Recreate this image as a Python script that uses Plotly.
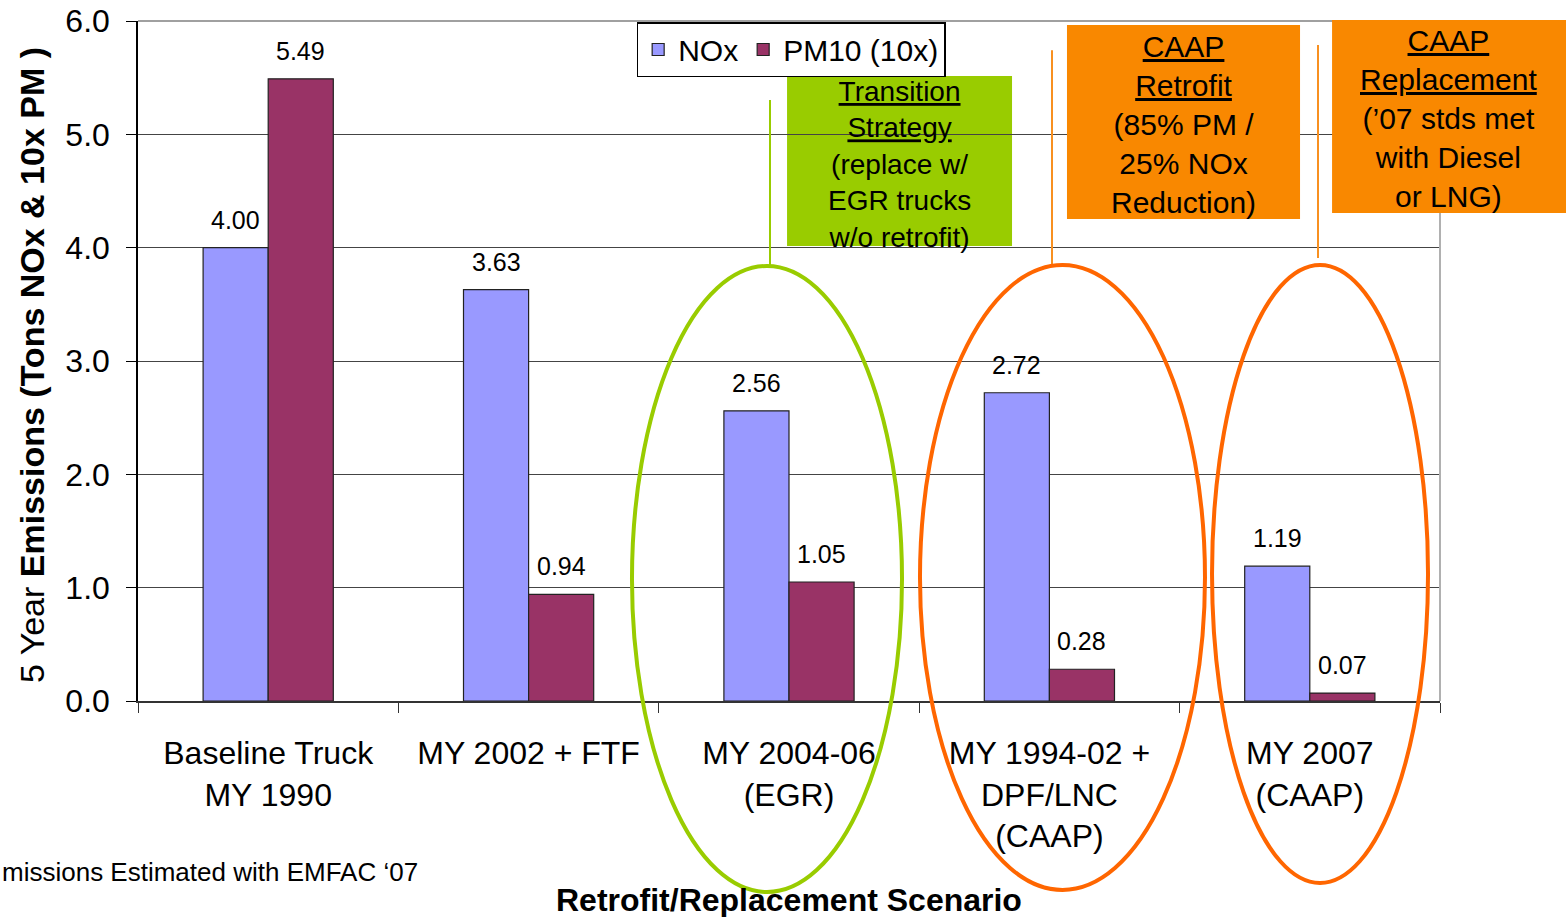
import plotly.graph_objs as go

# scenario categories (x axis)
scenarios = [
    "Baseline Truck<br>MY 1990",
    "MY 2002 + FTF",
    "MY 2004-06<br>(EGR)",
    "MY 1994-02 +<br>DPF/LNC<br>(CAAP)",
    "MY 2007<br>(CAAP)",
]

# 5 year emissions, tons
nox = [4.00, 3.63, 2.56, 2.72, 1.19]
pm10_x10 = [5.49, 0.94, 1.05, 0.28, 0.07]

y_ticks = [0, 1, 2, 3, 4, 5, 6]
y_tick_labels = ["0.0", "1.0", "2.0", "3.0", "4.0", "5.0", "6.0"]

FONT = "Liberation Sans, Arial, sans-serif"
GREEN = "#99CC00"
ORANGE_BOX = "#F98800"
ORANGE_RING = "#FF6600"

nox_trace = go.Bar(
    x=scenarios,
    y=nox,
    name="NOx",
    marker=dict(color="#9999FF", line=dict(color="#222222", width=1.2)),
)
pm_trace = go.Bar(
    x=scenarios,
    y=pm10_x10,
    name="PM10 (10x)",
    marker=dict(color="#993366", line=dict(color="#222222", width=1.2)),
)

annotations = []

# value labels above each bar
for i, (a, b) in enumerate(zip(nox, pm10_x10)):
    for offset, val in ((-0.125, a), (0.125, b)):
        annotations.append(dict(
            x=i + offset, y=val, xref="x", yref="y",
            xanchor="center", yanchor="middle",
            text=f"{val:.2f}", showarrow=False,
            yshift=28, font=dict(family=FONT, size=25, color="#000000"),
        ))

# axis titles and footnote
annotations.append(dict(
    x=-0.0814, y=0.494, xref="paper", yref="paper",
    xanchor="center", yanchor="middle",
    text="5 Year <b>Emissions (Tons NOx &amp; 10x PM )</b>",
    textangle=-90, showarrow=False,
    font=dict(family=FONT, size=34, color="#000000"),
))
annotations.append(dict(
    x=0.5, y=-0.2926, xref="paper", yref="paper",
    xanchor="center", yanchor="middle",
    text="<b>Retrofit/Replacement Scenario</b>", showarrow=False,
    font=dict(family=FONT, size=32, color="#000000"),
))
annotations.append(dict(
    x=-0.106, y=-0.2515, xref="paper", yref="paper",
    xanchor="left", yanchor="middle",
    text="missions Estimated with EMFAC \u201807", showarrow=False,
    font=dict(family=FONT, size=26, color="#000000"),
))

# callout box texts
annotations.append(dict(
    x=0.585, y=0.789, xref="paper", yref="paper",
    xanchor="center", yanchor="middle",
    text="<u>Transition</u><br><u>Strategy</u><br>(replace w/<br>EGR trucks<br>w/o retrofit)",
    showarrow=False, font=dict(family=FONT, size=28, color="#000000"),
))
annotations.append(dict(
    x=0.803, y=0.8485, xref="paper", yref="paper",
    xanchor="center", yanchor="middle",
    text="<u>CAAP</u><br><u>Retrofit</u><br>(85% PM /<br>25% NOx<br>Reduction)",
    showarrow=False, font=dict(family=FONT, size=30, color="#000000"),
))
annotations.append(dict(
    x=1.0069, y=0.856, xref="paper", yref="paper",
    xanchor="center", yanchor="middle",
    text="<u>CAAP</u><br><u>Replacement</u><br>(\u201907 stds met<br>with Diesel<br>or LNG)",
    showarrow=False, font=dict(family=FONT, size=30, color="#000000"),
))

shapes = [
    # plot frame top / right (light grey)
    dict(type="line", xref="paper", yref="paper", x0=0, x1=1, y0=1, y1=1,
         line=dict(color="#A0A0A0", width=2)),
    dict(type="line", xref="paper", yref="paper", x0=1, x1=1, y0=0, y1=1,
         line=dict(color="#B0B0B0", width=2)),
    # callout boxes
    dict(type="rect", xref="paper", yref="paper", x0=0.4985, x1=0.6713, y0=0.669, y1=0.919,
         fillcolor=GREEN, line=dict(width=0), layer="below"),
    dict(type="rect", xref="paper", yref="paper", x0=0.7135, x1=0.8925, y0=0.7088, y1=0.9941,
         fillcolor=ORANGE_BOX, line=dict(width=0)),
    dict(type="rect", xref="paper", yref="paper", x0=0.9171, x1=1.0968, y0=0.7176, y1=1.0015,
         fillcolor=ORANGE_BOX, line=dict(width=0)),
    # connector lines
    dict(type="line", xref="paper", yref="paper", x0=0.4854, x1=0.4854, y0=0.6397, y1=0.8838,
         line=dict(color=GREEN, width=2)),
    dict(type="line", xref="paper", yref="paper", x0=0.702, x1=0.702, y0=0.6397, y1=0.957,
         line=dict(color="#F89020", width=2)),
    dict(type="line", xref="paper", yref="paper", x0=0.9063, x1=0.9063, y0=0.6515, y1=0.9647,
         line=dict(color="#F89020", width=2)),
    # rings around scenarios
    dict(type="circle", xref="paper", yref="paper", x0=0.3794, x1=0.5868, y0=-0.2809, y1=0.6397,
         line=dict(color=GREEN, width=4)),
    dict(type="circle", xref="paper", yref="paper", x0=0.6006, x1=0.8195, y0=-0.2779, y1=0.6412,
         line=dict(color=ORANGE_RING, width=4)),
    dict(type="circle", xref="paper", yref="paper", x0=0.8249, x1=0.9908, y0=-0.2676, y1=0.6412,
         line=dict(color=ORANGE_RING, width=4)),
]

layout = go.Layout(
    width=1566,
    height=917,
    margin=dict(l=138, r=126, t=21, b=216, autoexpand=False),
    paper_bgcolor="#FFFFFF",
    plot_bgcolor="#FFFFFF",
    font=dict(family=FONT, size=30, color="#000000"),
    barmode="group",
    bargap=0.5,
    bargroupgap=0,
    xaxis=dict(
        type="category",
        tickson="boundaries",
        ticks="outside",
        ticklen=10,
        tickcolor="#333333",
        showline=True,
        linecolor="#333333",
        linewidth=1.5,
        showgrid=False,
        ticklabelstandoff=23,
        tickfont=dict(family=FONT, size=32, color="#000000"),
    ),
    yaxis=dict(
        range=[0, 6],
        tickvals=y_ticks,
        ticktext=y_tick_labels,
        ticks="outside",
        ticklen=10,
        tickcolor="#000000",
        showline=True,
        linecolor="#000000",
        linewidth=1.5,
        showgrid=True,
        gridcolor="#444444",
        gridwidth=1,
        zeroline=False,
        ticklabelstandoff=10,
        tickfont=dict(family=FONT, size=32, color="#000000"),
    ),
    legend=dict(
        orientation="h",
        x=0.383, y=0.9985, xanchor="left", yanchor="top",
        bgcolor="#FFFFFF",
        bordercolor="#000000",
        borderwidth=1.5,
        font=dict(family=FONT, size=30, color="#000000"),
        itemwidth=30,
    ),
    annotations=annotations,
    shapes=shapes,
)

fig = go.Figure(data=[nox_trace, pm_trace], layout=layout)
# drop the browser's default body margin so the figure sits at the page corner
fig.write_html(
    "out.html",
    config={"displayModeBar": False},
    post_script="document.body.style.margin='0';",
)
